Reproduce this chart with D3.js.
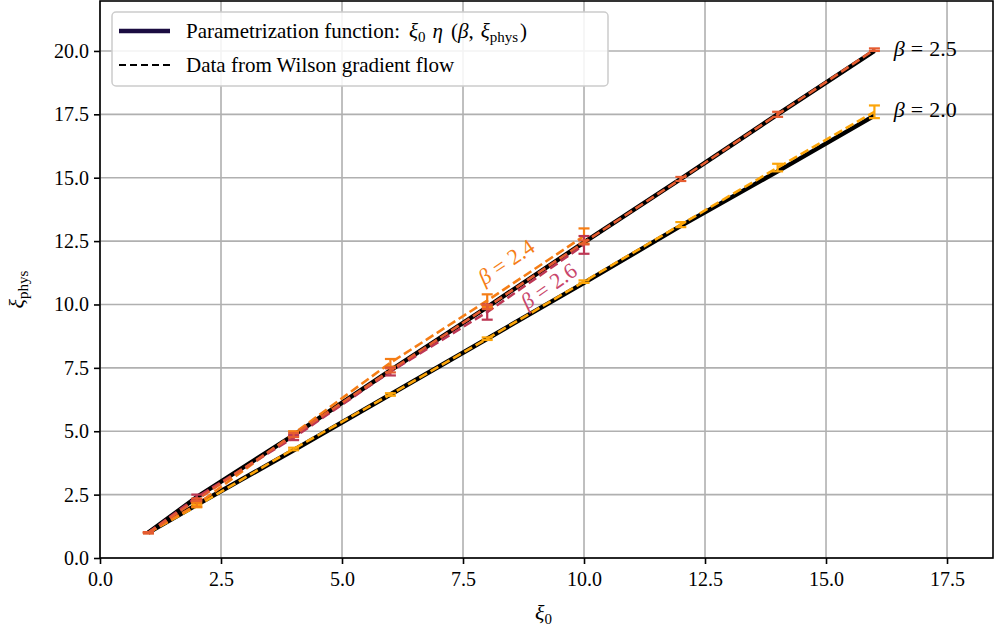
<!DOCTYPE html>
<html>
<head>
<meta charset="utf-8">
<script src="https://cdn.jsdelivr.net/npm/d3@7"></script>
<style>
  body { margin: 0; background: #fff; }
  text { font-family: "Liberation Serif", "DejaVu Serif", serif; }
</style>
</head>
<body>
<div id="chart"></div>
<script>
// xi_0 values where the flow was measured
const xiLong = [1, 2, 4, 6, 8, 10, 12, 14, 16];
const xiShort = [1, 2, 4, 6, 8, 10];

// Wilson gradient flow data (xi_phys) and errors
const data20 = [1.0, 2.05, 4.3, 6.45, 8.65, 10.9, 13.15, 15.4, 17.6];
const err20 = [0.02, 0.05, 0.05, 0.05, 0.05, 0.05, 0.1, 0.15, 0.25];
const data25 = [1.0, 2.3, 4.85, 7.4, 9.9, 12.45, 14.95, 17.5, 20.05];
const err25 = [0.02, 0.05, 0.08, 0.08, 0.08, 0.08, 0.08, 0.1, 0.05];
const data24 = [1.0, 2.1, 4.9, 7.7, 10.15, 12.7];
const err24 = [0.02, 0.08, 0.1, 0.15, 0.25, 0.3];
const data26 = [1.0, 2.4, 4.75, 7.35, 9.7, 12.35];
const err26 = [0.02, 0.1, 0.1, 0.15, 0.3, 0.35];

// parametrization function xi_0 * eta(beta, xi_phys)
const param20 = [1.0, 2.1, 4.25, 6.45, 8.65, 10.85, 13.1, 15.25, 17.45];
const param25 = [1.0, 2.4, 4.85, 7.4, 9.9, 12.45, 14.95, 17.5, 20.0];

const xTicks = [0, 2.5, 5, 7.5, 10, 12.5, 15, 17.5];
const yTicks = [0, 2.5, 5, 7.5, 10, 12.5, 15, 17.5, 20];

const series = [
  { beta: "2.0", xs: xiLong, ys: data20, err: err20, color: "#fca50a" },
  { beta: "2.4", xs: xiShort, ys: data24, err: err24, color: "#f57d15" },
  { beta: "2.6", xs: xiShort, ys: data26, err: err26, color: "#bc3754" },
  { beta: "2.5", xs: xiLong, ys: data25, err: err25, color: "#e55c30" },
];

const margin = { top: 1, right: 2, bottom: 79, left: 100 };
const W = 995, H = 637;
const width = W - margin.left - margin.right;
const height = H - margin.top - margin.bottom;

const svg = d3.select("#chart").append("svg")
  .attr("width", W).attr("height", H);

const g = svg.append("g")
  .attr("transform", "translate(" + margin.left + "," + margin.top + ")");

const x = d3.scaleLinear().domain([0, 18.45]).range([0, width]);
const y = d3.scaleLinear().domain([0, 21.97]).range([height, 0]);

// grid
g.append("g").selectAll("line").data(xTicks).join("line")
  .attr("x1", d => x(d)).attr("x2", d => x(d))
  .attr("y1", 0).attr("y2", height)
  .attr("stroke", "#b0b0b0").attr("stroke-width", 1.6);
g.append("g").selectAll("line").data(yTicks).join("line")
  .attr("x1", 0).attr("x2", width)
  .attr("y1", d => y(d)).attr("y2", d => y(d))
  .attr("stroke", "#b0b0b0").attr("stroke-width", 1.6);

const line = d3.line().x(d => x(d[0])).y(d => y(d[1]));

// parametrization curves (black, solid)
[param20, param25].forEach(p => {
  g.append("path")
    .datum(xiLong.map((v, i) => [v, p[i]]))
    .attr("d", line)
    .attr("fill", "none")
    .attr("stroke", "#000")
    .attr("stroke-width", 4.5);
});

// data lines, dashed
series.forEach(s => {
  g.append("path")
    .datum(s.xs.map((v, i) => [v, s.ys[i]]))
    .attr("d", line)
    .attr("fill", "none")
    .attr("stroke", s.color)
    .attr("stroke-width", 2.6)
    .attr("stroke-dasharray", "9,4");
});

// error bars with caps
series.forEach(s => {
  const eb = g.append("g");
  s.xs.forEach((v, i) => {
    const cx = x(v);
    const y0 = y(s.ys[i] - s.err[i]);
    const y1 = y(s.ys[i] + s.err[i]);
    eb.append("line").attr("x1", cx).attr("x2", cx).attr("y1", y0).attr("y2", y1)
      .attr("stroke", s.color).attr("stroke-width", 2.2);
    [y0, y1].forEach(yy => {
      eb.append("line").attr("x1", cx - 5.5).attr("x2", cx + 5.5)
        .attr("y1", yy).attr("y2", yy)
        .attr("stroke", s.color).attr("stroke-width", 2.2);
    });
  });
});

// beta labels
function betaLabel(parent, tx, ty, val, color, angle, anchor) {
  const t = parent.append("text")
    .attr("transform", "translate(" + tx + "," + ty + ") rotate(" + angle + ")")
    .attr("text-anchor", anchor)
    .attr("dominant-baseline", "middle")
    .attr("font-size", 22)
    .attr("fill", color);
  t.append("tspan").attr("font-style", "italic").text("β");
  t.append("tspan").attr("dx", 6).text("=");
  t.append("tspan").attr("dx", 6).text(val);
}
betaLabel(g, x(16.4), y(20.0), "2.5", "#000", 0, "start");
betaLabel(g, x(16.4), y(17.6), "2.0", "#000", 0, "start");
betaLabel(g, x(8.42), y(11.6), "2.4", "#f57d15", -34, "middle");
betaLabel(g, x(9.3), y(10.65), "2.6", "#c9466b", -35, "middle");

// axes
const xAxis = g.append("g")
  .attr("transform", "translate(0," + height + ")")
  .call(d3.axisBottom(x).tickValues(xTicks).tickFormat(d3.format(".1f")).tickSizeOuter(0).tickSize(6).tickPadding(8));
const yAxis = g.append("g")
  .call(d3.axisLeft(y).tickValues(yTicks).tickFormat(d3.format(".1f")).tickSizeOuter(0).tickSize(6).tickPadding(5));
[xAxis, yAxis].forEach(a => {
  a.selectAll("text").attr("font-size", 20).attr("font-family", "Liberation Serif").attr("fill", "#000");
  a.selectAll(".tick line").attr("stroke", "#000").attr("stroke-width", 1.6);
  a.select(".domain").remove();
});

// frame
g.append("rect")
  .attr("x", 0).attr("y", 0).attr("width", width).attr("height", height)
  .attr("fill", "none").attr("stroke", "#000").attr("stroke-width", 1.6);

// axis labels
const xl = svg.append("text")
  .attr("x", margin.left + width / 2 - 3).attr("y", 620)
  .attr("text-anchor", "middle").attr("font-size", 22);
xl.append("tspan").attr("font-style", "italic").text("ξ");
xl.append("tspan").attr("font-size", 15).attr("dy", 4).text("0");

const yl = svg.append("text")
  .attr("transform", "translate(24," + (margin.top + height / 2 + 10) + ") rotate(-90)")
  .attr("text-anchor", "middle").attr("font-size", 22);
yl.append("tspan").attr("font-style", "italic").text("ξ");
yl.append("tspan").attr("font-size", 15).attr("dy", 4).text("phys");

// legend
const lg = svg.append("g").attr("transform", "translate(112,12)");
lg.append("rect")
  .attr("width", 496).attr("height", 74).attr("rx", 4)
  .attr("fill", "#fff").attr("fill-opacity", 0.85)
  .attr("stroke", "#cccccc").attr("stroke-width", 1.5);
lg.append("line").attr("x1", 7).attr("x2", 58).attr("y1", 19).attr("y2", 19)
  .attr("stroke", "#1b0c41").attr("stroke-width", 4.5);
lg.append("line").attr("x1", 7).attr("x2", 58).attr("y1", 53).attr("y2", 53)
  .attr("stroke", "#000").attr("stroke-width", 2.2).attr("stroke-dasharray", "7,4");

const t1 = lg.append("text").attr("x", 74).attr("y", 26).attr("font-size", 21);
t1.append("tspan").text("Parametrization function:");
t1.append("tspan").attr("dx", 9).attr("font-style", "italic").text("ξ");
t1.append("tspan").attr("font-size", 15).attr("dy", 4).text("0");
t1.append("tspan").attr("dy", -4).attr("dx", 7).attr("font-style", "italic").text("η");
t1.append("tspan").attr("dx", 8).text("(");
t1.append("tspan").attr("font-style", "italic").text("β");
t1.append("tspan").text(",");
t1.append("tspan").attr("dx", 7).attr("font-style", "italic").text("ξ");
t1.append("tspan").attr("font-size", 15).attr("dy", 4).text("phys");
t1.append("tspan").attr("dy", -4).attr("dx", 2).text(")");

lg.append("text").attr("x", 74).attr("y", 60).attr("font-size", 21)
  .text("Data from Wilson gradient flow");
</script>
</body>
</html>
